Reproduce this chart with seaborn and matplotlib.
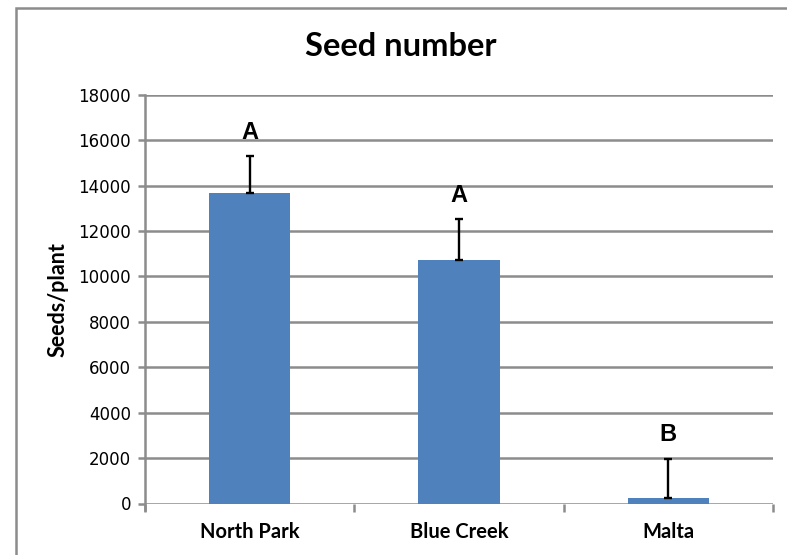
import numpy as np
import pandas as pd
import matplotlib
matplotlib.use("Agg")
import matplotlib.pyplot as plt
import matplotlib.patches as patches
import seaborn as sns

# values
sites = ["North Park", "Blue Creek", "Malta"]
seeds = [13650, 10720, 255]
seeds_err = [1650, 1800, 1720]
letters = ["A", "A", "B"]

sns.set_theme(style="white")
plt.rcParams["font.family"] = ["DejaVu Sans"]
plt.rcParams["text.color"] = "black"
plt.rcParams["xtick.color"] = "black"
plt.rcParams["ytick.color"] = "black"
plt.rcParams["axes.labelcolor"] = "black"

grid_col = "#8C8C8C"
bar_col = "#4F81BD"

fig = plt.figure(figsize=(7.87, 5.55), dpi=100)
ax = fig.add_axes([145 / 787, (555 - 503.5) / 555, (773 - 145) / 787, (503.5 - 94.7) / 555])

df = pd.DataFrame({"site": sites, "seeds": seeds})
sns.barplot(data=df, x="site", y="seeds", color=bar_col, saturation=1, width=0.39,
            linewidth=0, ax=ax, zorder=3)

# one-sided error bars
x = np.arange(len(sites))
ax.errorbar(x, seeds, yerr=[np.zeros(len(seeds)), seeds_err], fmt="none",
            ecolor="black", elinewidth=1.7, capsize=3, capthick=1.7, zorder=4)

for i, (s, e, l) in enumerate(zip(seeds, seeds_err, letters)):
    ax.text(i, s + e + 1050, l, ha="center", va="center", fontsize=17,
            fontweight="bold", family="Liberation Sans", zorder=5)

ax.set_ylim(0, 18000)
ax.set_xlim(-0.5, 2.5)
ax.set_yticks(np.arange(0, 18001, 2000))
ax.yaxis.grid(True, color=grid_col, linewidth=1.8)
ax.set_axisbelow(True)

for side in ["top", "right", "bottom"]:
    ax.spines[side].set_visible(False)
ax.spines["left"].set_color(grid_col)
ax.spines["left"].set_linewidth(1.8)
ax.spines["left"].set_bounds(-300, 18000)
ax.tick_params(axis="y", direction="out", length=5, width=1.8, color=grid_col,
               labelsize=12, labelcolor="black", pad=5, left=True)

# category boundary ticks on the x axis
ax.set_xticks([-0.5, 0.5, 1.5, 2.5], minor=True)
ax.tick_params(axis="x", which="minor", direction="out", length=6, width=1.8,
               color=grid_col, bottom=True)
ax.tick_params(axis="x", which="major", length=0, pad=13, labelcolor="black")
for lab in ax.get_xticklabels():
    lab.set_family("Lato")
    lab.set_fontweight("bold")
    lab.set_fontsize(14.5)

ax.set_xlabel("")
ax.set_ylabel("Seeds/plant", family="Lato", fontweight="bold", fontsize=15.5,
              labelpad=7, color="black")

fig.text(401 / 787, 1 - 47 / 555, "Seed number", ha="center", va="center",
         family="Lato", fontweight="bold", fontsize=23.5, color="black")

# chart-area frame (cut at right and bottom like the screenshot)
fig.patches.append(patches.Rectangle((16 / 787, -0.1), 1.2, 0.1 + (555 - 8) / 555,
                                     transform=fig.transFigure, fill=False,
                                     edgecolor="#8C8C8C", linewidth=1.8))

fig.savefig("out.png", dpi=100)
